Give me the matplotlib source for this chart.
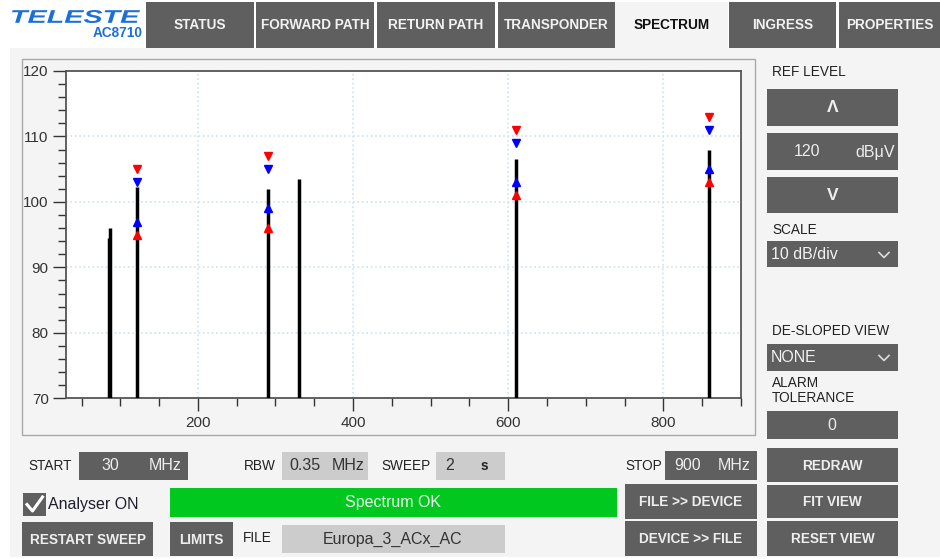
import matplotlib
matplotlib.use("Agg")
import matplotlib.pyplot as plt
from matplotlib.patches import Rectangle, PathPatch
from matplotlib.lines import Line2D
from matplotlib.textpath import TextPath
from matplotlib.font_manager import FontProperties
from matplotlib.transforms import Affine2D
from matplotlib.ticker import MultipleLocator

plt.rcParams['font.family'] = ['Liberation Sans', 'DejaVu Sans']

# spectrum carriers (MHz, dBuV)
peak_freq = [85.5, 87, 121, 290, 330, 610, 859]
peak_level = [94.5, 96, 102.3, 102, 103.5, 106.5, 108]

# limit markers for the monitored carriers
limit_freq = [121, 290, 610, 859]
red_hi = [105, 107, 111, 113]
blue_hi = [103, 105, 109, 111]
blue_lo = [97, 99, 103, 105]
red_lo = [95, 96, 101, 103]

tabs = ["STATUS", "FORWARD PATH", "RETURN PATH", "TRANSPONDER", "SPECTRUM", "INGRESS", "PROPERTIES"]
tab_x = [(146, 254), (256, 374), (377, 495), (498, 615), (615, 728), (729, 836), (839, 940)]

W, H = 940, 559
DARK = "#5f5f5f"
LIGHT = "#cccccc"
PANEL = "#f4f4f4"
BLUE = "#1c6fd6"

fig = plt.figure(figsize=(W / 100, H / 100), dpi=100, facecolor="white")


def box(x0, y0, x1, y1, fc, ec="none", lw=0, z=1):
    fig.add_artist(Rectangle((x0 / W, 1 - y1 / H), (x1 - x0) / W, (y1 - y0) / H,
                             transform=fig.transFigure, facecolor=fc, edgecolor=ec, lw=lw, zorder=z))


def txt(x, y, s, size=9.8, color="#222222", ha="center", weight="normal", **kw):
    fig.text(x / W, 1 - y / H, s, fontsize=size, color=color, ha=ha, va="center",
             fontweight=weight, zorder=5, **kw)


def button(x0, y0, x1, y1, label, size=9.8):
    box(x0, y0, x1, y1, DARK, z=2)
    txt((x0 + x1) / 2, (y0 + y1) / 2 + 0.5, label, size=size, color="#eeeeee", weight="bold")


def chevron(xc, yc):
    fig.add_artist(Line2D([(xc - 5) / W, xc / W, (xc + 5) / W],
                          [1 - (yc - 2.5) / H, 1 - (yc + 2.5) / H, 1 - (yc - 2.5) / H],
                          transform=fig.transFigure, color="#dddddd", lw=1.2, zorder=5))


# page background + header
box(10, 48, 940, 557, PANEL, z=0)
for name, (a, b) in zip(tabs, tab_x):
    if name == "SPECTRUM":
        box(a, 2, b, 48, PANEL, z=1)
        txt((a + b) / 2, 25, name, color="#111111", weight="bold")
    else:
        box(a, 2, b, 48, DARK, z=1)
        txt((a + b) / 2, 25, name, color="#f2f2f2", weight="bold")

# logo, stretched to its box
tp = TextPath((0, 0), "TELESTE", size=1,
              prop=FontProperties(family="Liberation Sans", weight="bold", style="italic"))
ext = tp.get_extents()
lx0, lx1, ly0, ly1 = 12, 140, 10, 23
tr = (Affine2D().translate(-ext.x0, -ext.y0)
      .scale((lx1 - lx0) / ext.width, (ly1 - ly0) / ext.height)
      .translate(lx0, H - ly1).scale(1 / W, 1 / H) + fig.transFigure)
fig.add_artist(PathPatch(tp, transform=tr, facecolor=BLUE, edgecolor="none", zorder=5))
txt(143, 33, "AC8710", size=9.8, color=BLUE, ha="right", weight="bold")

# chart frame
box(22, 59, 755, 435, "none", ec="#a8a8a8", lw=1, z=1)

ax = fig.add_axes([66 / W, 1 - 398.3 / H, (741 - 66) / W, (398.3 - 71) / H])
ax.set_facecolor("white")
ax.vlines(peak_freq, 70, peak_level, color="black", lw=2.5, zorder=3)
ax.plot(limit_freq, red_hi, "v", color="red", ms=6, zorder=4, ls="none")
ax.plot(limit_freq, blue_hi, "v", color="blue", ms=6, zorder=4, ls="none")
ax.plot(limit_freq, blue_lo, "^", color="blue", ms=6, zorder=4, ls="none")
ax.plot(limit_freq, red_lo, "^", color="red", ms=6, zorder=4, ls="none")
ax.set_xlim(30, 900)
ax.set_ylim(70, 120)
ax.xaxis.set_major_locator(MultipleLocator(200))
ax.xaxis.set_minor_locator(MultipleLocator(50))
ax.yaxis.set_major_locator(MultipleLocator(10))
ax.yaxis.set_minor_locator(MultipleLocator(2))
ax.tick_params(which="major", length=9.5, width=1, color="#333333", labelsize=11,
               labelcolor="#333333", pad=3)
ax.tick_params(which="minor", length=5.8, width=1, color="#333333")
ax.grid(True, which="major", color="#cde4ef", ls=":", lw=1.2)
for sp in ax.spines.values():
    sp.set_color("#555555")
    sp.set_linewidth(1.3)

# right column
txt(772, 72, "REF LEVEL", ha="left")
button(767, 89, 898, 126, "Λ", size=12.5)
box(767, 133, 898, 170, DARK, z=2)
txt(807, 152, "120", size=11.5, color="#eeeeee")
txt(875, 152, "dBμV", size=11.5, color="#eeeeee")
button(767, 177, 898, 213, "V", size=12.5)
txt(772, 230, "SCALE", ha="left")
box(767, 241, 898, 267, DARK, z=2)
txt(771, 254.5, "10 dB/div", size=11.5, color="#f2f2f2", ha="left")
chevron(884, 255)
txt(772, 331, "DE-SLOPED VIEW", ha="left")
box(767, 344, 898, 371, DARK, z=2)
txt(771, 358, "NONE", size=11.5, color="#f2f2f2", ha="left")
chevron(884, 358)
txt(772, 383, "ALARM", ha="left")
txt(772, 398, "TOLERANCE", ha="left")
box(767, 411, 898, 439, DARK, z=2)
txt(832, 425.5, "0", size=11.5, color="#eeeeee")
button(767, 448, 898, 482, "REDRAW")
button(767, 485, 898, 518, "FIT VIEW")
button(767, 521, 898, 556, "RESET VIEW")

# bottom controls
txt(28, 466, "START", ha="left")
box(79, 452, 188, 480, DARK, z=2)
txt(110, 466, "30", size=11.5, color="#eeeeee")
txt(165, 466, "MHz", size=11.5, color="#eeeeee")
txt(244, 466, "RBW", ha="left")
box(282, 452, 368, 480, LIGHT, z=2)
txt(305, 466, "0.35", size=11.5, color="#333333")
txt(348, 466, "MHz", size=11.5, color="#333333")
txt(381, 466, "SWEEP", ha="left")
box(436, 452, 505, 480, LIGHT, z=2)
txt(450, 466, "2", size=11.5, color="#333333")
txt(484, 466, "s", size=9.8, color="#222222", weight="bold")
txt(625, 466, "STOP", ha="left")
box(665, 451, 757, 480, DARK, z=2)
txt(688, 466, "900", size=11.5, color="#eeeeee")
txt(734, 466, "MHz", size=11.5, color="#eeeeee")

box(23, 493, 46, 516, DARK, z=2)
fig.add_artist(Line2D([27 / W, 32.5 / W, 42.5 / W], [1 - 504.5 / H, 1 - 511 / H, 1 - 497 / H],
                      transform=fig.transFigure, color="white", lw=2.2, zorder=5))
txt(48.5, 505, "Analyser ON", size=11.5, color="#1e1e2e", ha="left")
box(170, 488, 617, 517, "#00c81e", z=2)
txt(393, 502, "Spectrum OK", size=11.5, color="#eaffea")
button(625, 484, 757, 519, "FILE >> DEVICE")
button(625, 521, 757, 556, "DEVICE >> FILE")
button(22, 522, 153, 556, "RESTART SWEEP")
button(170, 522, 233, 556, "LIMITS")
txt(243, 538.5, "FILE", ha="left")
box(282, 525, 505, 553, LIGHT, z=2)
txt(393, 539, "Europa_3_ACx_AC", size=11.5, color="#333333")

fig.savefig("out.png", dpi=100, facecolor="white")
